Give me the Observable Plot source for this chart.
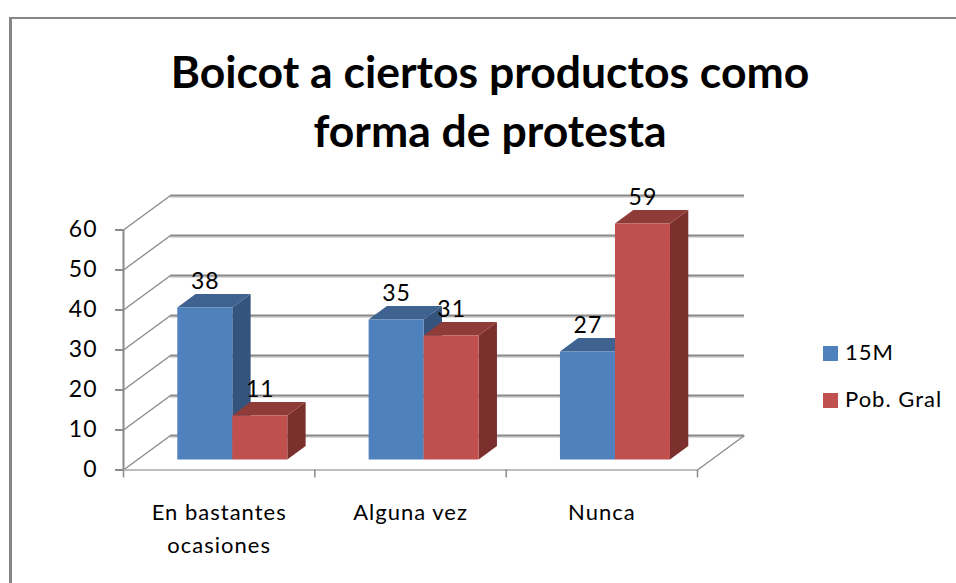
<!DOCTYPE html>
<html lang="es">
<head>
<meta charset="utf-8">
<script src="https://cdn.jsdelivr.net/npm/d3@7"></script>
<script src="https://cdn.jsdelivr.net/npm/@observablehq/plot@0.6"></script>
<style>
html,body{margin:0;padding:0;background:#fff;width:956px;height:583px;overflow:hidden;font-family:Lato,sans-serif;color:#000}
#frame{position:absolute;left:9px;top:17px;right:0;bottom:0;border-left:3px solid #868686;border-top:2px solid #868686}
#title{position:absolute;left:0;width:980px;top:41px;text-align:center;font-weight:700;font-size:44.5px;line-height:59px;color:#000}
#chart{position:absolute;left:0;top:170px}
#chart text{letter-spacing:1px}
#legend{position:absolute;left:823px;top:343px;font-size:22px;color:#000;letter-spacing:1px}
.row{position:absolute;left:0;white-space:nowrap;line-height:24px;height:24px}
.row i{position:absolute;left:0;top:3px;width:15px;height:15px}
.row span{position:absolute;left:22px;top:-3px}
</style>
</head>
<body>
<div id="frame"></div>
<div id="title">Boicot a ciertos productos como<br>forma de protesta</div>
<div id="chart"></div>
<div id="legend"></div>
<script>
const categories = ["En bastantes\nocasiones", "Alguna vez", "Nunca"];
const series = ["15M", "Pob. Gral"];
const values15M = [38, 35, 27];
const valuesPobGral = [11, 31, 59];
const yTicks = [0, 10, 20, 30, 40, 50, 60];
const frontColors = ["#4F81BD", "#C0504D"];
const topColors = ["#3E6390", "#8F3B38"];
const sideColors = ["#34547D", "#7B302E"];

// Oblique projection expressed in data units, so everything goes through the scales
const depthX = 0.2456, depthY = 8.625;
const barWidth = 0.2875, barGap = 0.2125, barZ = 0.29, barDepth = 0.39;
const project = (x, y, z) => ({x: x + z * depthX, y: y + z * depthY});

const seriesValues = [values15M, valuesPobGral];
const bars = series.flatMap((s, si) => seriesValues[si].map((v, i) => {
  const x0 = i + barGap + si * barWidth;
  return {series: s, si, i, v, x0, x1: x0 + barWidth, key: s + i};
}));
const front = bars.map(b => {
  const p0 = project(b.x0, 0, barZ), p1 = project(b.x1, b.v, barZ);
  return {...b, fx1: p0.x, fx2: p1.x, fy1: p0.y, fy2: p1.y, cx: (p0.x + p1.x) / 2};
});
const sideFace = b => [barZ, barZ + barDepth].map(z => {
  const lo = project(b.x1, 0, z), hi = project(b.x1, b.v, z);
  return {key: b.key, si: b.si, x: lo.x, y1: lo.y, y2: hi.y};
});
const topFace = b => [barZ, barZ + barDepth].map(z => {
  const a = project(b.x0, b.v, z), c = project(b.x1, b.v, z);
  return {key: b.key, si: b.si, y: a.y, x1: a.x, x2: c.x};
});

const barMarks = series.flatMap((s, si) => {
  const mine = bars.filter(b => b.si === si);
  return [
    Plot.area(mine.flatMap(sideFace), {x1: "x", y1: "y1", y2: "y2", z: "key", fill: sideColors[si]}),
    Plot.area(mine.flatMap(topFace), {y1: "y", x1: "x1", x2: "x2", z: "key", fill: topColors[si]}),
    Plot.rect(front.filter(b => b.si === si), {x1: "fx1", x2: "fx2", y1: "fy1", y2: "fy2", fill: "series"})
  ];
});

const gridGrey = "#8A8A8A", gridLight = "#CFCFCF";
const backTicks = yTicks.map(v => project(0, v, 1));
const backEnd = project(3, 0, 1);

const plot = Plot.plot({
  width: 956,
  height: 413,
  marginLeft: 123,
  marginRight: 259,
  marginTop: 59.5,
  marginBottom: 113.5,
  style: {background: "transparent", fontFamily: 'Lato,sans-serif', color: "#000", overflow: "visible"},
  x: {type: "linear", domain: [0, 3], axis: null},
  y: {type: "linear", domain: [0, 60], axis: null},
  color: {domain: series, range: frontColors},
  marks: [
    // back wall gridlines
    Plot.ruleY(backTicks, {y: "y", x1: "x", x2: backEnd.x, stroke: gridLight, strokeWidth: 1.5, dy: 1.5}),
    Plot.ruleY(backTicks, {y: "y", x1: "x", x2: backEnd.x, stroke: gridGrey, strokeWidth: 1.8}),
    // side-wall diagonals
    Plot.link(yTicks, {x1: 0, y1: d => d, x2: backTicks[0].x, y2: d => project(0, d, 1).y, stroke: gridGrey, strokeWidth: 1.3}),
    // floor
    Plot.ruleY([0], {x1: 0, x2: 3, stroke: "#BDBDBD", strokeWidth: 2}),
    Plot.link([0], {x1: 3, y1: 0, x2: backEnd.x, y2: backEnd.y, stroke: gridGrey, strokeWidth: 1.3}),
    Plot.ruleX([0], {y1: 0, y2: 60, stroke: gridGrey, strokeWidth: 2}),
    // x ticks
    Plot.ruleX([0, 1, 2, 3], {y1: 0, y2: -2, stroke: gridGrey, strokeWidth: 1.5}),
    ...barMarks,
    Plot.axisY({ticks: yTicks, tickSize: 8, tickPadding: 18, stroke: gridGrey, strokeWidth: 2, fontSize: 23, label: null, tickFormat: d => String(d)}),
    Plot.axisX({ticks: [0.5, 1.5, 2.5], tickSize: 0, tickPadding: 27, fontSize: 22, lineHeight: 1.5, label: null, textAnchor: "middle", lineAnchor: "top", tickFormat: d => categories[d - 0.5]}),
    Plot.text(front, {x: "cx", y: "fy2", text: d => String(d.v), dy: -26, fontSize: 23, fill: "#000", textAnchor: "middle", lineAnchor: "middle"})
  ]
});
document.getElementById("chart").append(plot);

const legend = document.getElementById("legend");
series.forEach((s, i) => {
  const row = document.createElement("div");
  row.className = "row";
  row.style.top = (i * 47) + "px";
  row.innerHTML = `<i style="background:${frontColors[i]}"></i><span>${s}</span>`;
  legend.append(row);
});
</script>
</body>
</html>
